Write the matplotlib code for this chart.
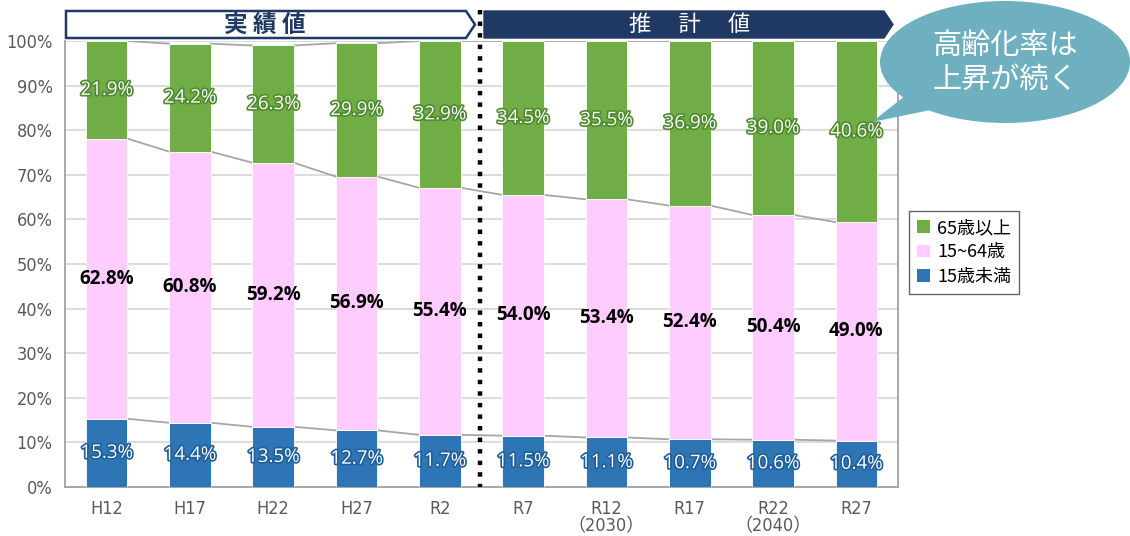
import matplotlib
matplotlib.use("Agg")
import matplotlib.pyplot as plt
import matplotlib.patheffects as pe
from matplotlib.patches import Polygon, Ellipse, Patch
import numpy as np

plt.rcParams['font.family'] = ['Noto Sans CJK JP', 'DejaVu Sans']

categories = ["H12", "H17", "H22", "H27", "R2", "R7", "R12\n（2030）", "R17", "R22\n（2040）", "R27"]
under15 = [15.3, 14.4, 13.5, 12.7, 11.7, 11.5, 11.1, 10.7, 10.6, 10.4]
age15_64 = [62.8, 60.8, 59.2, 56.9, 55.4, 54.0, 53.4, 52.4, 50.4, 49.0]
over65 = [21.9, 24.2, 26.3, 29.9, 32.9, 34.5, 35.5, 36.9, 39.0, 40.6]
series_names = ["65歳以上", "15~64歳", "15歳未満"]
yticks = [0, 10, 20, 30, 40, 50, 60, 70, 80, 90, 100]

C_GREEN = "#70AD47"
C_PINK = "#FFCCFF"
C_BLUE = "#2E75B6"
NAVY = "#203864"

W, H = 1130, 536
fig = plt.figure(figsize=(W / 100, H / 100), dpi=100)

def fx(x):
    return x / W

def fy(y):
    return 1 - y / H

ax = fig.add_axes([fx(65), fy(487), fx(898) - fx(65), fy(41) - fy(487)])

x = np.arange(len(categories))
bw = 0.5
u = np.array(under15)
m = np.array(age15_64)
o = np.array(over65)

ax.bar(x, u, bw, color=C_BLUE, edgecolor="white", linewidth=0.6, zorder=3)
ax.bar(x, m, bw, bottom=u, color=C_PINK, edgecolor="white", linewidth=0.6, zorder=3)
ax.bar(x, o, bw, bottom=u + m, color=C_GREEN, edgecolor="white", linewidth=0.6, zorder=3)

# series lines
for lev in [u, u + m, u + m + o]:
    for i in range(len(x) - 1):
        ax.plot([x[i] + bw / 2, x[i + 1] - bw / 2], [lev[i], lev[i + 1]],
                color="#A6A6A6", lw=1.3, zorder=2)

LBL = ["Open Sans", "DejaVu Sans"]
for i in range(len(x)):
    ax.text(x[i], u[i] / 2, f"{u[i]:.1f}%", ha="center", va="center", fontsize=13.5,
            color="white", family=LBL, zorder=5,
            path_effects=[pe.withStroke(linewidth=2.4, foreground="#1F5F99")])
    ax.text(x[i], u[i] + m[i] / 2, f"{m[i]:.1f}%", ha="center", va="center", fontsize=13.5,
            color="black", fontweight="bold", family=LBL, zorder=5)
    ax.text(x[i], u[i] + m[i] + o[i] / 2, f"{o[i]:.1f}%", ha="center", va="center", fontsize=13.5,
            color="white", family=LBL, zorder=5,
            path_effects=[pe.withStroke(linewidth=2.4, foreground="#4E8A2E")])

ax.set_xlim(-0.5, len(x) - 0.5)
ax.set_ylim(0, 100)
ax.set_yticks(yticks)
ax.set_yticklabels([f"{t}%" for t in yticks])
ax.set_xticks(x)
ax.set_xticklabels(categories, linespacing=1.0)
ax.tick_params(length=0, labelsize=13, colors="#595959", pad=9)
for lab in ax.get_yticklabels() + ax.get_xticklabels():
    lab.set_family(["DejaVu Sans", "Noto Sans CJK JP"])
    lab.set_fontstretch("condensed")
ax.yaxis.grid(True, color="#D9D9D9", lw=1.3, zorder=0)
ax.set_axisbelow(True)
for s in ["left", "bottom", "right"]:
    ax.spines[s].set_color("#A0A0A0")
    ax.spines[s].set_linewidth(1.3)
ax.spines["top"].set_visible(False)

# dotted divider
fig.add_artist(plt.Line2D([fx(480), fx(480)], [fy(10), fy(487)], color="black", lw=3.2,
                          linestyle=(0, (1, 1.6)), transform=fig.transFigure, zorder=6))

def poly(pts, **kw):
    p = Polygon([(fx(a), fy(b)) for a, b in pts], closed=True, transform=fig.transFigure, **kw)
    fig.add_artist(p)

poly([(66, 11), (466, 11), (475, 24.5), (466, 38), (66, 38)], facecolor="white", edgecolor=NAVY, lw=1.8)
poly([(484, 11), (884, 11), (893, 24.5), (884, 38), (484, 38)], facecolor=NAVY, edgecolor=NAVY, lw=1.0)
fig.text(fx(265), fy(24.5), "実 績 値", ha="center", va="center", fontsize=17, fontweight="bold", color=NAVY)
fig.text(fx(690), fy(24.5), "推　 計　 値", ha="center", va="center", fontsize=16, color="white")

# speech bubble
BUB = "#6FB0C0"
poly([(915, 88), (955, 105), (872, 122)], facecolor=BUB, edgecolor="none")
e = Ellipse((fx(1005), fy(62)), 250 / W, 122 / H, transform=fig.transFigure, facecolor=BUB, edgecolor="none")
fig.add_artist(e)
fig.text(fx(1005), fy(46), "高齢化率は", ha="center", va="center", fontsize=21, color="white")
fig.text(fx(1005), fy(80), "上昇が続く", ha="center", va="center", fontsize=21, color="white")

# legend
handles = [Patch(facecolor=C_GREEN), Patch(facecolor=C_PINK), Patch(facecolor=C_BLUE)]
leg = fig.legend(handles, series_names, loc="upper left", bbox_to_anchor=(fx(909), fy(211)),
                 bbox_transform=fig.transFigure, frameon=True, fancybox=False, fontsize=13,
                 handlelength=0.7, handleheight=0.7, handletextpad=0.4, labelspacing=0.35,
                 borderpad=0.45, borderaxespad=0)
leg.get_frame().set_edgecolor("#404040")
leg.get_frame().set_linewidth(1.0)

fig.savefig("out.png", dpi=100)
